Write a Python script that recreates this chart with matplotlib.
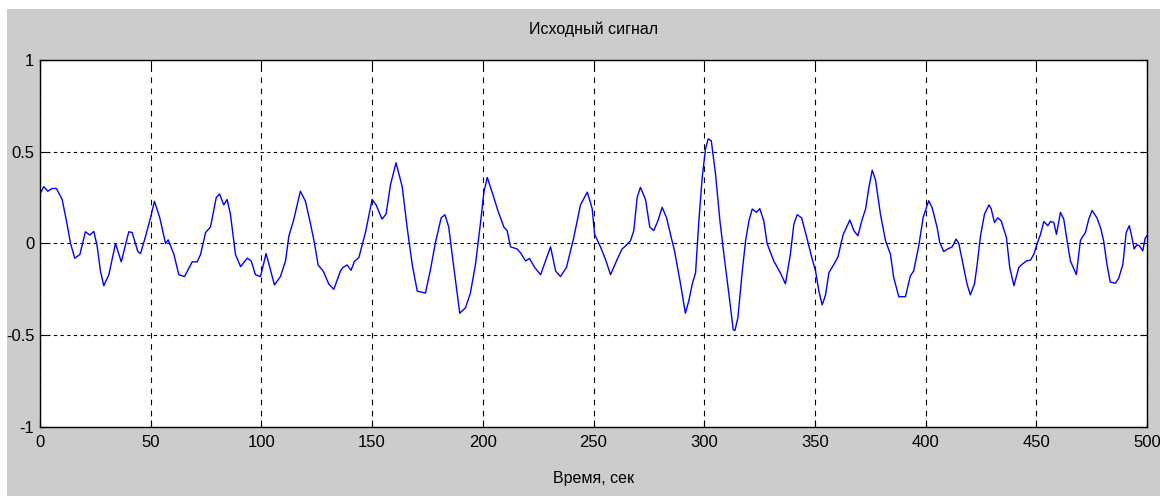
import matplotlib
matplotlib.use("Agg")
import matplotlib.pyplot as plt
from matplotlib.patches import Rectangle

# Signal samples
time_s = [0, 1.7, 3.5, 5.5, 7.4, 10.0, 12.0, 13.8, 15.7, 18.0, 20.5, 22.5, 24.3, 25.8, 27.3,
          28.8, 31.1, 34.1, 36.7, 40.1, 41.6, 44.2, 45.4, 47.7, 49.9, 51.7, 54.1, 56.7, 57.9,
          60.5, 62.7, 65.3, 68.7, 71.0, 72.5, 74.8, 77.0, 79.6, 81.1, 83.0, 84.5, 86.0, 88.3,
          90.6, 93.6, 95.4, 97.3, 99.6, 102.1, 103.8, 105.9, 108.6, 110.9, 112.4, 114.6, 117.6,
          119.9, 122.2, 124.0, 125.6, 127.9, 130.4, 132.7, 135.7, 136.9, 138.7, 140.5, 142.0,
          144.0, 147.0, 150.0, 151.8, 154.5, 156.3, 158.3, 160.8, 163.6, 165.8, 168.1, 170.4,
          174.1, 176.4, 178.6, 181.2, 182.9, 184.6, 186.9, 189.6, 192.2, 194.4, 196.7, 198.9,
          200.5, 202.0, 204.2, 206.8, 209.5, 211.0, 212.5, 215.5, 217.0, 219.3, 221.1, 223.4,
          226.1, 228.3, 230.6, 232.9, 235.1, 237.8, 241.1, 244.1, 247.2, 249.4, 250.5, 253.2,
          255.4, 257.7, 260.7, 262.9, 264.5, 266.7, 268.2, 269.7, 271.2, 273.5, 275.4, 277.2,
          279.1, 281.0, 283.0, 285.1, 286.6, 289.3, 291.5, 293.1, 294.6, 296.1, 297.6, 299.1,
          300.6, 301.8, 303.2, 305.1, 307.1, 308.9, 311.2, 313.1, 313.9, 315.2, 317.2, 318.7,
          320.2, 321.7, 323.6, 325.1, 326.9, 328.4, 331.4, 334.4, 336.7, 338.9, 340.5, 342.0,
          344.0, 346.5, 348.8, 350.3, 351.8, 353.3, 354.8, 356.3, 358.6, 360.4, 362.8, 365.8,
          367.6, 369.4, 371.4, 372.9, 374.4, 375.9, 377.4, 379.6, 381.9, 384.1, 385.6, 387.9,
          390.9, 393.1, 394.6, 396.9, 398.9, 401.4, 402.9, 405.2, 406.4, 408.2, 410.0, 412.0,
          413.8, 415.0, 417.2, 418.7, 420.2, 422.1, 423.3, 424.8, 426.6, 428.6, 429.6, 431.1,
          432.6, 434.1, 436.5, 438.0, 439.9, 442.1, 443.6, 445.6, 447.4, 448.9, 450.4, 451.9,
          453.4, 455.2, 456.4, 457.9, 459.1, 460.9, 462.4, 463.9, 465.4, 468.1, 469.9, 470.7,
          472.2, 473.7, 475.2, 477.4, 479.2, 480.4, 481.9, 483.4, 485.7, 487.2, 489.1, 490.6,
          492.0, 493.2, 494.2, 495.4, 496.6, 498.1, 499.2, 500]
amplitude = [0.27, 0.31, 0.285, 0.30, 0.30, 0.24, 0.12, 0.0, -0.08, -0.06, 0.064, 0.046, 0.066,
             -0.013, -0.15, -0.23, -0.17, 0.0, -0.10, 0.064, 0.06, -0.044, -0.055, 0.04, 0.14,
             0.23, 0.14, 0.0, 0.02, -0.06, -0.17, -0.18, -0.10, -0.10, -0.06, 0.06, 0.09, 0.25,
             0.27, 0.21, 0.24, 0.16, -0.06, -0.126, -0.08, -0.095, -0.17, -0.18, -0.055, -0.13,
             -0.226, -0.18, -0.095, 0.04, 0.13, 0.285, 0.23, 0.106, 0.0, -0.117, -0.15, -0.22,
             -0.25, -0.15, -0.13, -0.117, -0.146, -0.098, -0.077, 0.06, 0.24, 0.21, 0.133, 0.16,
             0.32, 0.44, 0.31, 0.09, -0.113, -0.26, -0.27, -0.14, 0.005, 0.14, 0.157, 0.09,
             -0.13, -0.38, -0.35, -0.27, -0.113, 0.106, 0.28, 0.36, 0.28, 0.18, 0.09, 0.07,
             -0.018, -0.03, -0.05, -0.095, -0.082, -0.13, -0.17, -0.095, -0.018, -0.15, -0.18,
             -0.13, 0.033, 0.21, 0.28, 0.19, 0.05, -0.02, -0.086, -0.17, -0.086, -0.03, -0.013,
             0.015, 0.07, 0.25, 0.306, 0.24, 0.09, 0.07, 0.124, 0.197, 0.14, 0.033, -0.04,
             -0.22, -0.38, -0.31, -0.22, -0.16, 0.124, 0.36, 0.516, 0.57, 0.56, 0.38, 0.124,
             -0.06, -0.28, -0.47, -0.474, -0.405, -0.15, 0.015, 0.124, 0.188, 0.17, 0.19, 0.124,
             0.0, -0.095, -0.16, -0.22, -0.06, 0.106, 0.157, 0.14, 0.024, -0.086, -0.15, -0.26,
             -0.335, -0.28, -0.16, -0.113, -0.073, 0.05, 0.128, 0.07, 0.042, 0.133, 0.188,
             0.306, 0.40, 0.345, 0.16, 0.015, -0.058, -0.186, -0.29, -0.29, -0.177, -0.15,
             -0.013, 0.142, 0.233, 0.197, 0.088, 0.005, -0.044, -0.03, -0.018, 0.024, 0.0,
             -0.13, -0.22, -0.28, -0.22, -0.113, 0.042, 0.16, 0.21, 0.19, 0.115, 0.14, 0.124,
             0.033, -0.13, -0.23, -0.13, -0.113, -0.095, -0.09, -0.058, 0.0, 0.05, 0.12, 0.097,
             0.12, 0.115, 0.05, 0.17, 0.133, 0.015, -0.095, -0.17, 0.015, 0.033, 0.06, 0.133,
             0.18, 0.14, 0.078, 0.015, -0.113, -0.21, -0.217, -0.19, -0.113, 0.06, 0.097, 0.033,
             -0.03, -0.007, -0.013, -0.04, 0.03, 0.042]

x_ticks = [0, 50, 100, 150, 200, 250, 300, 350, 400, 450, 500]
y_ticks = [-1, -0.5, 0, 0.5, 1]
y_tick_labels = ["-1", "-0.5", "0", "0.5", "1"]

plt.rcParams['font.family'] = ['Liberation Sans', 'DejaVu Sans']

W, H = 1160, 496
fig = plt.figure(figsize=(W / 100, H / 100), dpi=100, facecolor='white')
# grey MATLAB figure background
fig.patches.append(Rectangle((7 / W, 0), 1, 1 - 9 / H, transform=fig.transFigure,
                             facecolor='#cccccc', edgecolor='none', zorder=-10))

ax = fig.add_axes([40 / W, 1 - 427 / H, 1107 / W, 367 / H])
ax.set_facecolor('white')
ax.plot(time_s, amplitude, color='blue', linewidth=1.0)

ax.set_xlim(0, 500)
ax.set_ylim(-1, 1)
ax.set_xticks(x_ticks)
ax.set_yticks(y_ticks)
ax.set_yticklabels(y_tick_labels)

ax.tick_params(direction='in', length=5, width=0.8, top=True, right=True,
               labelsize=12, colors='black', pad=4)
ax.tick_params(axis='x', pad=6)
ax.xaxis.grid(True, color='black', linestyle=(0, (5, 5)), linewidth=0.8)
ax.yaxis.grid(True, color='black', linestyle=(0, (3, 3)), linewidth=0.8)
for s in ax.spines.values():
    s.set_linewidth(1.0)
    s.set_color('black')

ax.set_title("Исходный сигнал", fontsize=11.5, pad=19)
ax.set_xlabel("Время, сек", fontsize=11.5, labelpad=15)

fig.savefig("out.png", dpi=100, facecolor=fig.get_facecolor())
